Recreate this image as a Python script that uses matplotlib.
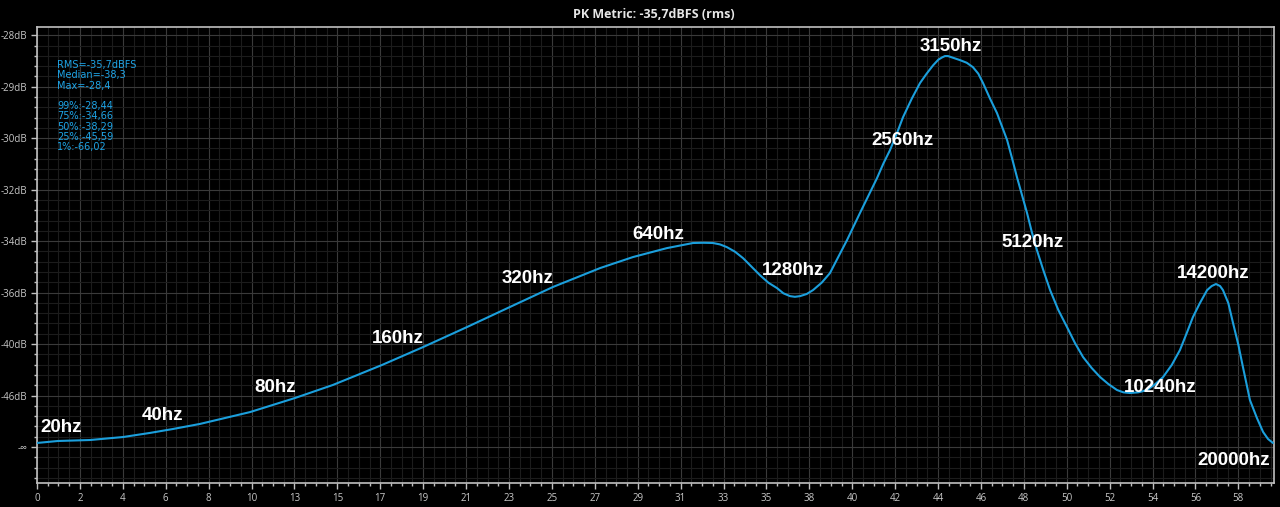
import numpy as np
import matplotlib
matplotlib.use("Agg")
import matplotlib.pyplot as plt
from matplotlib.ticker import AutoMinorLocator, FixedLocator

# ---------------- data ----------------
title = "PK Metric: -35,7dBFS (rms)"

# curve: x in axis units (band position), level in dBFS
curve_x = [0.00, 1.02, 2.58, 4.18, 5.49, 6.61, 7.92, 10.35, 12.54, 14.38, 16.76,
           18.76, 20.90, 22.98, 25.07, 27.36, 28.96, 30.61, 31.88, 32.38, 32.85,
           33.19, 33.53, 33.92, 34.31, 34.73, 35.13, 35.54, 35.96, 36.27, 36.59,
           36.83, 37.08, 37.40, 37.71, 38.13, 38.53, 38.94, 39.36, 39.99, 40.82,
           41.13, 41.45, 41.78, 42.08, 42.51, 42.91, 43.23, 43.54, 43.80, 43.98,
           44.12, 44.27, 44.85, 45.18, 45.48, 45.74, 45.97, 46.31, 46.65, 47.14,
           47.38, 47.62, 48.11, 48.34, 48.59, 48.90, 49.23, 49.63, 50.05, 50.44,
           50.83, 51.25, 51.66, 52.06, 52.48, 52.79, 53.11, 53.52, 53.94, 54.33,
           54.72, 55.14, 55.54, 55.87, 56.17, 56.51, 56.86, 57.08, 57.29, 57.49,
           57.63, 57.89, 58.12, 58.38, 58.60, 58.94, 59.28, 59.58, 59.82, 60.06]
curve_db = [-68.2, -64.7, -63.4, -60.3, -57.3, -55.15, -53.0, -49.4, -46.45, -44.4, -41.98,
            -40.26, -38.67, -37.33, -36.17, -35.20, -34.68, -34.28, -34.06, -34.05, -34.06,
            -34.12, -34.24, -34.44, -34.73, -35.14, -35.55, -35.94, -36.23, -36.52, -36.68,
            -36.72, -36.68, -36.56, -36.34, -35.94, -35.45, -34.67, -33.94, -32.87, -31.66,
            -31.20, -30.80, -30.33, -29.89, -29.41, -29.03, -28.81, -28.62, -28.49, -28.44,
            -28.41, -28.41, -28.50, -28.56, -28.66, -28.81, -29.03, -29.41, -29.78, -30.51,
            -31.04, -31.63, -32.87, -33.60, -34.37, -35.30, -36.34, -37.52, -38.67, -39.92,
            -41.17, -42.30, -43.36, -44.27, -45.14, -45.50, -45.61, -45.50, -45.14, -44.31,
            -43.36, -41.98, -40.52, -39.12, -37.98, -37.09, -36.34, -36.12, -36.01, -36.12,
            -36.34, -37.09, -38.39, -40.08, -42.19, -46.82, -51.01, -56.73, -62.19, -68.2]

x_tick_labels = ["0", "2", "4", "6", "8", "10", "13", "15", "17", "19", "21", "23", "25",
                 "27", "29", "31", "33", "35", "38", "40", "42", "44", "46", "48", "50",
                 "52", "54", "56", "58"]
y_tick_labels = ["-\u221e", "-46dB", "-40dB", "-36dB", "-34dB", "-32dB", "-30dB", "-29dB", "-28dB"]

freq_labels = ["20hz", "40hz", "80hz", "160hz", "320hz", "640hz", "1280hz", "2560hz",
               "3150hz", "5120hz", "10240hz", "14200hz", "20000hz"]

stats_lines = ["RMS=-35,7dBFS", "Median=-38,3", "Max=-28,4", "",
               "99%:-28,44", "75%:-34,66", "50%:-38,29", "25%:-45,59", "1%:-66,02"]

# ---------------- layout / style ----------------
BG = "#000000"
LINE = "#1b9fdc"
SPINE = "#c0c0c0"
TICKTXT = "#c8c8c8"
AMP_STEP = 0.005          # the level axis is linear in amplitude
X_STEP = 2.085

# label anchor positions (axis units, amplitude) and alignment
label_pos = [(0.15, 0.00185, "left"), (6.12, 0.00301, "center"), (11.57, 0.00573, "center"),
             (17.54, 0.01049, "center"), (23.86, 0.01641, "center"), (30.18, 0.02068, "center"),
             (36.74, 0.01718, "center"), (42.08, 0.02981, "center"), (44.42, 0.03893, "center"),
             (48.40, 0.01990, "center"), (54.57, 0.00573, "center"), (57.15, 0.01689, "center"),
             (59.90, -0.00136, "right")]

fig = plt.figure(figsize=(12.8, 5.07), dpi=100, facecolor=BG)
ax = fig.add_axes([37 / 1280, 24 / 507, (1274 - 37) / 1280, (483 - 27) / 507])
ax.set_facecolor(BG)

amp = 10 ** (np.asarray(curve_db) / 20.0)
ax.plot(curve_x, amp, color=LINE, lw=1.5, solid_joinstyle="round",
        solid_capstyle="round", antialiased=True, zorder=3)

ax.set_xlim(0, 60.11)
ax.set_ylim(-0.7 * AMP_STEP, 8.16 * AMP_STEP)

ax.xaxis.set_major_locator(FixedLocator(np.arange(len(x_tick_labels)) * X_STEP))
ax.set_xticklabels(x_tick_labels)
ax.yaxis.set_major_locator(FixedLocator(np.arange(len(y_tick_labels)) * AMP_STEP))
ax.set_yticklabels(y_tick_labels)
ax.xaxis.set_minor_locator(AutoMinorLocator(4))
ax.yaxis.set_minor_locator(AutoMinorLocator(5))

ax.grid(which="major", color="#3a3a3a", lw=0.8, zorder=0)
ax.grid(which="minor", color="#1c1c1c", lw=0.8, zorder=0)
ax.set_axisbelow(True)

for s in ax.spines.values():
    s.set_color(SPINE)
    s.set_linewidth(1.2)

ax.tick_params(which="major", direction="out", length=4, width=1, color=SPINE,
               labelcolor=TICKTXT, labelsize=7, pad=3)
ax.tick_params(which="minor", direction="out", length=2, width=1, color=SPINE)
for lab in ax.get_xticklabels() + ax.get_yticklabels():
    lab.set_family(["Open Sans", "DejaVu Sans"])

fig.text(654 / 1280, 1 - 14 / 507, title, color="#e6e6e6", fontsize=9,
         fontweight="bold", family=["Open Sans", "DejaVu Sans"],
         ha="center", va="center")

for txt, (lx, ly, ha) in zip(freq_labels, label_pos):
    ax.text(lx, ly, txt, color="white", fontsize=13.5, fontweight="bold",
            family=["Liberation Sans", "DejaVu Sans"], ha=ha, va="center", zorder=4)

for i, line in enumerate(stats_lines):
    fig.text(57 / 1280, 1 - (65 + 10.3 * i) / 507, line, color="#1ea4e6", fontsize=7,
             family=["DejaVu Sans"], ha="left", va="center")

fig.savefig("out.png", dpi=100, facecolor=BG)
